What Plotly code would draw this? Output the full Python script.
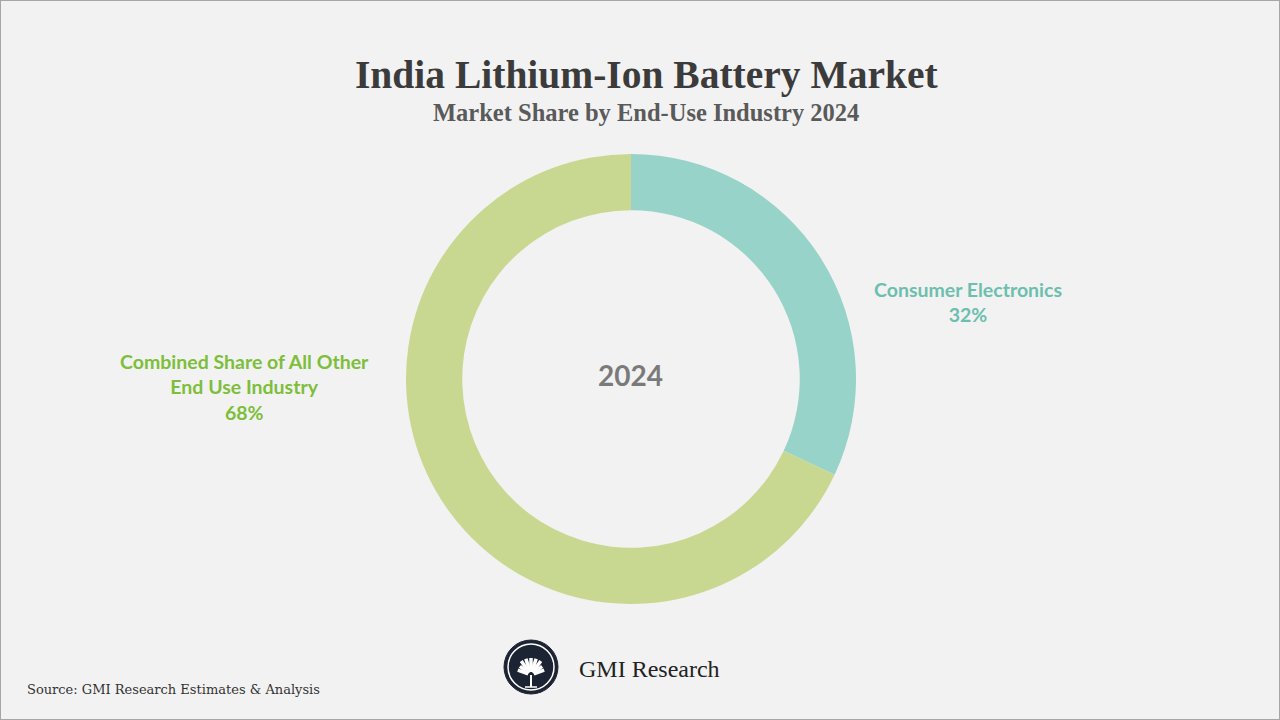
import plotly.graph_objects as go
import numpy as np

labels = ['Consumer Electronics', 'Combined Share of All Other<br>End Use Industry']
shares = [32, 68]
colors = ['#97d3c9', '#c8d891']
label_colors = ['#6cbfae', '#7dbe3b']
year = '2024'

W, H = 1280, 720

def px(x):
    return x / W

def py(y):
    return 1 - y / H

fig = go.Figure()
fig.add_trace(go.Pie(
    labels=labels, values=shares, hole=0.75, sort=False, direction='clockwise',
    rotation=0, marker=dict(colors=colors, line=dict(width=0)),
    textinfo='none', hoverinfo='label+percent', showlegend=False,
    domain=dict(x=[px(406), px(856)], y=[py(604), py(154)]),
))

sans = 'Lato, Open Sans, sans-serif'
serif = 'Liberation Serif, DejaVu Serif, serif'

ann = []
ann.append(dict(x=px(646), y=py(75), text='<b>India Lithium-Ion Battery Market</b>',
                font=dict(family=serif, size=39.5, color='#3b3b3b')))
ann.append(dict(x=px(646), y=py(112), text='<b>Market Share by End-Use Industry 2024</b>',
                font=dict(family=serif, size=24.5, color='#5a5a5a')))
ann.append(dict(x=px(630), y=py(375), text='<b>' + year + '</b>',
                font=dict(family=sans, size=28, color='#7a7a7a')))
ann.append(dict(x=px(968), y=py(302), text='<b>%s<br>%d%%</b>' % (labels[0], shares[0]),
                font=dict(family=sans, size=19.5, color=label_colors[0])))
ann.append(dict(x=px(244), y=py(387), text='<b>%s<br>%d%%</b>' % (labels[1], shares[1]),
                font=dict(family=sans, size=19.5, color=label_colors[1])))
ann.append(dict(x=px(577), y=py(669), text='GMI Research', xanchor='left',
                font=dict(family=serif, size=24, color='#222222')))
ann.append(dict(x=px(25), y=py(689), text='Source: GMI Research Estimates & Analysis', xanchor='left',
                font=dict(family='DejaVu Serif, serif', size=13, color='#333333')))
for a in ann:
    a.setdefault('xanchor', 'center')
    a.update(xref='paper', yref='paper', yanchor='middle', showarrow=False, align='center')

shapes = []
# border
shapes.append(dict(type='rect', xref='paper', yref='paper', x0=0, y0=0, x1=1, y1=1,
                   line=dict(color='#a6a6a6', width=2)))
# logo
cx, cy, r = 531, 667, 27
shapes.append(dict(type='circle', xref='paper', yref='paper',
                   x0=px(cx - r), x1=px(cx + r), y0=py(cy + r), y1=py(cy - r),
                   fillcolor='#1c2333', line=dict(color='#1c2333', width=1)))
shapes.append(dict(type='circle', xref='paper', yref='paper',
                   x0=px(cx - r + 4), x1=px(cx + r - 4), y0=py(cy + r - 4), y1=py(cy - r + 4),
                   fillcolor='rgba(0,0,0,0)', line=dict(color='white', width=1.5)))
# fan leaves
bx, by = cx, cy + 8
for ang in np.linspace(20, 160, 9):
    a = np.radians(ang)
    ln = 17 if 50 < ang < 130 else 14
    shapes.append(dict(type='line', xref='paper', yref='paper',
                       x0=px(bx + 3 * np.cos(a)), y0=py(by - 3 * np.sin(a)),
                       x1=px(bx + ln * np.cos(a)), y1=py(by - ln * np.sin(a)),
                       line=dict(color='white', width=3.5)))
shapes.append(dict(type='line', xref='paper', yref='paper',
                   x0=px(bx), y0=py(by), x1=px(bx), y1=py(by + 12),
                   line=dict(color='white', width=2)))
shapes.append(dict(type='line', xref='paper', yref='paper',
                   x0=px(bx - 6), y0=py(by + 12), x1=px(bx + 6), y1=py(by + 12),
                   line=dict(color='white', width=1.5)))

fig.update_layout(
    width=W, height=H, margin=dict(l=0, r=0, t=0, b=0),
    paper_bgcolor='#f2f2f2', plot_bgcolor='#f2f2f2',
    annotations=ann, shapes=shapes,
)
# drop the default page margin so the figure sits at the window's corner
fig.write_html('out.html', config={'displayModeBar': False},
               post_script="document.body.style.margin='0';")
